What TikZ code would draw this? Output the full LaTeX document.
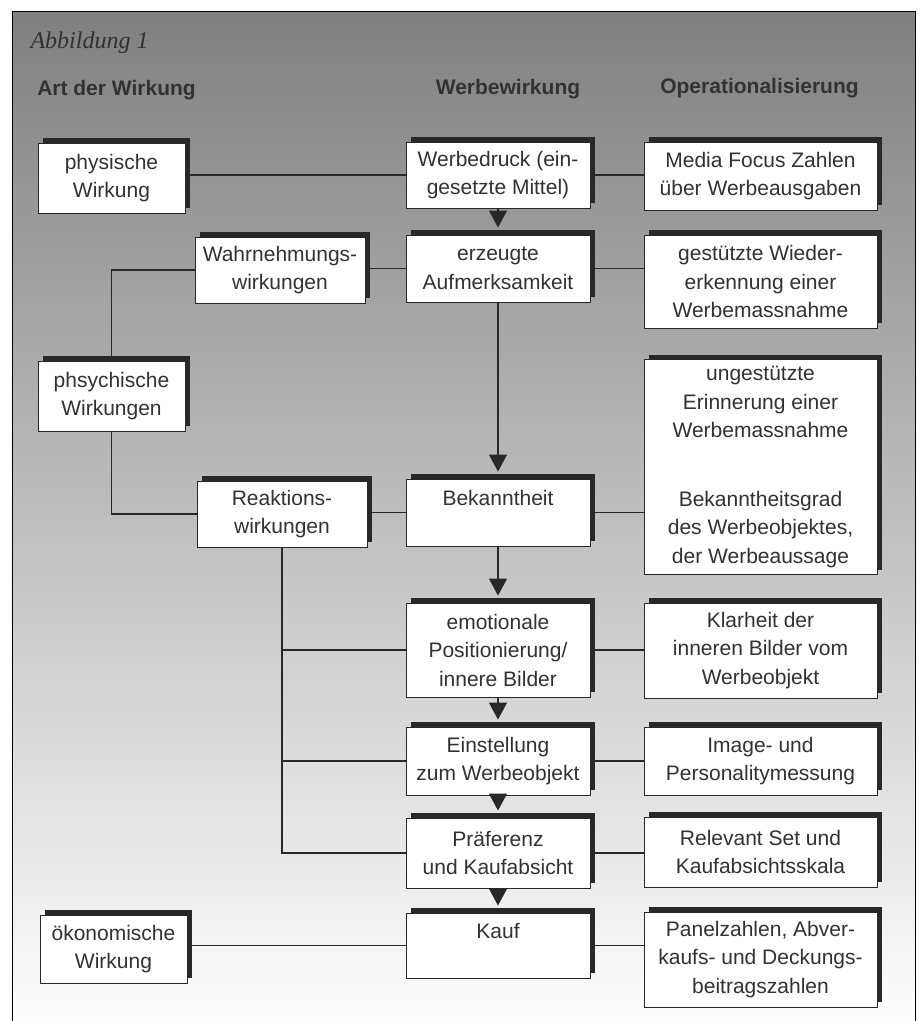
\documentclass[tikz,border=0pt]{standalone}
\usepackage{fontspec}
\setmainfont{Liberation Sans}
\newfontfamily\titlefont{Liberation Serif}
\usetikzlibrary{shadows,arrows.meta}
\definecolor{panel}{RGB}{201,201,201}
\definecolor{ink}{RGB}{50,50,50}
\definecolor{shade}{RGB}{40,40,40}
\begin{document}
\begin{tikzpicture}[x=1pt,y=-1pt,
  box/.style={draw=shade, line width=0.9pt, fill=white, text=ink, align=center,
    font=\fontsize{21}{28.5}\selectfont, inner sep=0pt,
    general shadow={fill=shade, shadow xshift=5pt, shadow yshift=5pt}},
  conn/.style={draw=shade, line width=1.2pt},
  arr/.style={conn, -{Triangle[width=18pt,length=17pt]}, shorten >=7pt},
  head/.style={anchor=base, font=\fontsize{21}{25}\selectfont\bfseries, text=ink}]
\useasboundingbox (0,0) rectangle (920,1021);
\fill[white] (0,0) rectangle (920,1021);
\fill[panel] (12,11) rectangle (915,1030);
\draw[shade, line width=1pt] (12,1030) -- (12,11) -- (915,11) -- (915,1030);

\node[anchor=base west, font=\titlefont\itshape\fontsize{24}{28}\selectfont, text=ink] (title) at (27,48) {Abbildung 1};
\node[head] (h1) at (116.5,95) {Art der Wirkung};
\node[head] (h2) at (508,94) {Werbewirkung};
\node[head] (h3) at (759.5,93) {Operationalisierung};

% left column
\node[box, minimum width=147pt, minimum height=70pt] (phys) at (111.5,178) {physische\\Wirkung};
\node[box, minimum width=147pt, minimum height=70pt] (psy) at (111.5,396) {phsychische\\Wirkungen};
\node[box, minimum width=147pt, minimum height=68pt] (oek) at (113.5,949) {ökonomische\\Wirkung};
\node[box, minimum width=170pt, minimum height=66pt] (wahr) at (280,270) {Wahrnehmungs-\\wirkungen};
\node[box, minimum width=170pt, minimum height=66pt] (reak) at (282,514) {Reaktions-\\wirkungen};

% middle column
\node[box, minimum width=184pt, minimum height=66pt] (wd) at (498,175) {Werbedruck (ein-\\gesetzte Mittel)};
\node[box, minimum width=184pt, minimum height=67pt] (erz) at (498,268.5) {erzeugte\\Aufmerksamkeit};
\node[box, minimum width=184pt, minimum height=67pt] (bek) at (498,512.5) {Bekanntheit\\\mbox{}};
\node[box, minimum width=184pt, minimum height=94pt] (emo) at (498,650) {emotionale\\Positionierung/\\innere Bilder};
\node[box, minimum width=184pt, minimum height=68pt] (ein) at (498,761) {Einstellung\\zum Werbeobjekt};
\node[box, minimum width=184pt, minimum height=70pt] (pra) at (498,853) {Präferenz\\und Kaufabsicht};
\node[box, minimum width=184pt, minimum height=65pt] (kauf) at (498,945.5) {Kauf\\\mbox{}};

% right column
\node[box, minimum width=233pt, minimum height=68pt] (media) at (760.5,176) {Media Focus Zahlen\\über Werbeausgaben};
\node[box, minimum width=233pt, minimum height=93pt] (gest) at (760.5,281.5) {gestützte Wieder-\\erkennung einer\\Werbemassnahme};
\node[box, minimum width=233pt, minimum height=215pt] (unge) at (760.5,467) {ungestützte\\Erinnerung einer\\Werbemassnahme\\[40pt]Bekanntheitsgrad\\des Werbeobjektes,\\der Werbeaussage};
\node[box, minimum width=233pt, minimum height=95pt] (klar) at (760.5,650.5) {Klarheit der\\inneren Bilder vom\\Werbeobjekt};
\node[box, minimum width=233pt, minimum height=68pt] (img) at (760.5,761) {Image- und\\Personalitymessung};
\node[box, minimum width=233pt, minimum height=70pt] (rel) at (760.5,852) {Relevant Set und\\Kaufabsichtsskala};
\node[box, minimum width=233pt, minimum height=95pt] (pan) at (760.5,959.5) {Panelzahlen, Abver-\\kaufs- und Deckungs-\\beitragszahlen};

% connectors
\draw[conn] (phys.east |- wd.west) -- (wd.west);
\draw[conn] (wd.east) -- (wd.east -| media.west);
\draw[conn] (wahr.east |- erz.west) -- (erz.west);
\draw[conn] (erz.east) -- (erz.east -| gest.west);
\draw[conn] (wahr.west) -| (psy.north);
\draw[conn] (psy.south) |- (reak.west);
\draw[conn] (reak.east |- bek.west) -- (bek.west);
\draw[conn] (bek.east) -- (bek.east -| unge.west);
\draw[conn] (reak.south) |- (pra.west);
\draw[conn] (reak.south |- emo.west) -- (emo.west);
\draw[conn] (reak.south |- ein.west) -- (ein.west);
\draw[conn] (emo.east) -- (emo.east -| klar.west);
\draw[conn] (ein.east) -- (ein.east -| img.west);
\draw[conn] (pra.east) -- (pra.east -| rel.west);
\draw[conn] (kauf.east) -- (kauf.east -| pan.west);
\draw[conn] (oek.east |- kauf.west) -- (kauf.west);

% arrows
\draw[arr] (wd.south) -- (erz.north);
\draw[arr] (erz.south) -- (bek.north);
\draw[arr] (bek.south) -- (emo.north);
\draw[arr] (emo.south) -- (ein.north);
\draw[arr] (ein.south) -- (pra.north);
\draw[arr] (pra.south) -- (kauf.north);
\end{tikzpicture}
\end{document}
